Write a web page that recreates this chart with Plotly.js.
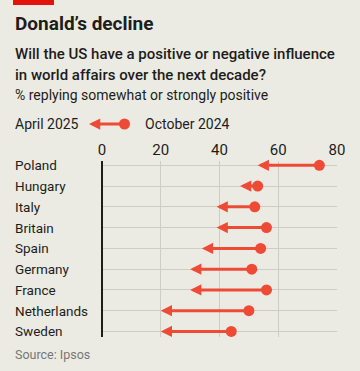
<!DOCTYPE html>
<html>
<head>
<meta charset="utf-8">
<script src="https://cdn.plot.ly/plotly-3.0.1.min.js"></script>
<style>
html,body{margin:0;padding:0;background:#ecebe3;}
#chart{width:360px;height:371px;}
</style>
</head>
<body>
<div id="chart"></div>
<script>
// Data
const countries = ["Poland","Hungary","Italy","Britain","Spain","Germany","France","Netherlands","Sweden"];
const october2024 = [74, 53, 52, 56, 54, 51, 56, 50, 44];
const april2025 = [53, 47, 39, 39, 34, 30, 30, 20, 20];
const xTicks = [0, 20, 40, 60, 80];

const RED = '#ee4b36';
const TEXT = '#1d1d1b';
const FONT = 'Roboto, "Open Sans", sans-serif';

const W = 360, H = 371;
const L = 102, R = 23, T = 161, B = 34;
const pw = W - L - R, ph = H - T - B;
const px = x => (x - L) / pw;
const py = y => (H - B - y) / ph;

const annotations = [];

countries.forEach((c, i) => {
  annotations.push({
    x: april2025[i], y: c, ax: october2024[i], ay: c,
    xref: 'x', yref: 'y', axref: 'x', ayref: 'y',
    text: '', showarrow: true, arrowhead: 2, arrowsize: 0.75, arrowwidth: 3,
    arrowcolor: RED, standoff: 0, startstandoff: 0
  });
  annotations.push({
    x: px(13), y: c, xref: 'paper', yref: 'y', text: c, showarrow: false,
    xanchor: 'left', yanchor: 'middle', font: {family: FONT, size: 13.5, color: TEXT}
  });
});

annotations.push({x: px(13), y: py(37), xref: 'paper', yref: 'paper', xanchor: 'left', yanchor: 'bottom',
  text: '<b>Donald’s decline</b>', showarrow: false, font: {family: FONT, size: 19, color: TEXT}});
annotations.push({x: px(13), y: py(65), xref: 'paper', yref: 'paper', xanchor: 'left', yanchor: 'bottom',
  text: 'Will the US have a positive or negative influence', showarrow: false,
  font: {family: FONT, size: 15, color: TEXT, weight: 500}});
annotations.push({x: px(13), y: py(86), xref: 'paper', yref: 'paper', xanchor: 'left', yanchor: 'bottom',
  text: 'in world affairs over the next decade?', showarrow: false,
  font: {family: FONT, size: 15, color: TEXT, weight: 500}});
annotations.push({x: px(13), y: py(105), xref: 'paper', yref: 'paper', xanchor: 'left', yanchor: 'bottom',
  text: '% replying somewhat or strongly positive', showarrow: false,
  font: {family: FONT, size: 14, color: TEXT}});

annotations.push({x: px(13), y: py(124), xref: 'paper', yref: 'paper', xanchor: 'left', yanchor: 'middle',
  text: 'April 2025', showarrow: false, font: {family: FONT, size: 14, color: TEXT}});
annotations.push({x: px(143), y: py(124), xref: 'paper', yref: 'paper', xanchor: 'left', yanchor: 'middle',
  text: 'October 2024', showarrow: false, font: {family: FONT, size: 14, color: TEXT}});
annotations.push({x: px(89), y: py(124), xref: 'paper', yref: 'paper', ax: 37, ay: 0,
  axref: 'pixel', ayref: 'pixel', text: '', showarrow: true, arrowside: 'end+start',
  arrowhead: 2, arrowsize: 0.75, startarrowhead: 6, startarrowsize: 0.92,
  arrowwidth: 3, arrowcolor: RED, standoff: 0, startstandoff: 0});

annotations.push({x: px(13), y: py(354), xref: 'paper', yref: 'paper', xanchor: 'left', yanchor: 'middle',
  text: 'Source: Ipsos', showarrow: false, font: {family: FONT, size: 12.5, color: '#777'}});

const traces = [
  {
    type: 'scatter', mode: 'markers', x: october2024, y: countries,
    marker: {color: RED, size: 11}, hoverinfo: 'skip', cliponaxis: false
  }
];

const layout = {
  width: W, height: H,
  paper_bgcolor: '#ecebe3', plot_bgcolor: '#ecebe3',
  margin: {l: L, r: R, t: T, b: B, pad: 0},
  showlegend: false,
  xaxis: {
    range: [0, 80], side: 'top', tickvals: xTicks, ticktext: xTicks.map(String),
    showgrid: true, gridcolor: '#cecdc5', gridwidth: 1,
    zeroline: true, zerolinecolor: '#1d1d1b', zerolinewidth: 1.5,
    ticks: '', showline: false, fixedrange: true, ticklabelstandoff: 2,
    tickfont: {family: FONT, size: 15, color: TEXT}
  },
  yaxis: {
    type: 'category', categoryarray: countries, categoryorder: 'array',
    range: [8.27, -0.21], showgrid: true, gridcolor: '#cecdc5', gridwidth: 1,
    showticklabels: false, ticks: '', zeroline: false, showline: false, fixedrange: true
  },
  shapes: [
    {type: 'rect', xref: 'paper', yref: 'paper', x0: px(13), x1: px(54), y0: py(5), y1: py(0),
     fillcolor: '#e3120b', line: {width: 0}}
  ],
  annotations: annotations
};

Plotly.newPlot('chart', traces, layout, {displayModeBar: false, staticPlot: true});
</script>
</body>
</html>
